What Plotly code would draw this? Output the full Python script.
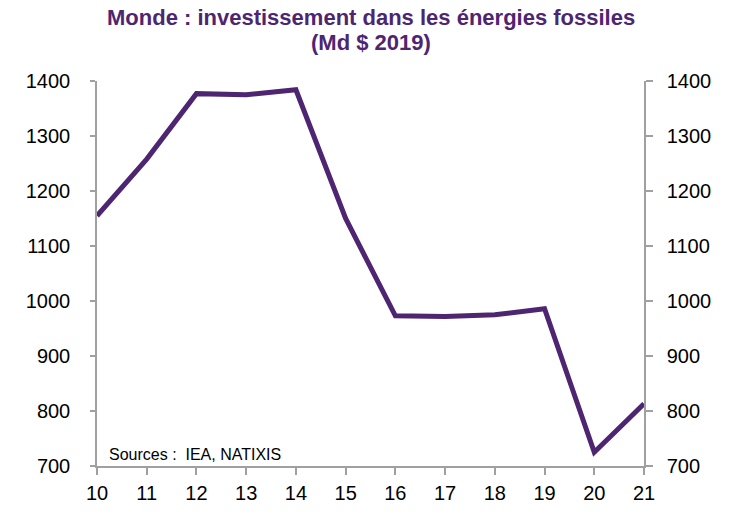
import plotly.graph_objects as go

years = [10, 11, 12, 13, 14, 15, 16, 17, 18, 19, 20, 21]
invest = [1155, 1258, 1377, 1375, 1384, 1150, 973, 972, 975, 986, 725, 813]
yticks = [700, 800, 900, 1000, 1100, 1200, 1300, 1400]

purple = "#4E2571"
FONT = "Liberation Sans, Arial"
fig = go.Figure()
fig.add_trace(go.Scatter(x=years, y=invest, mode="lines",
                         line=dict(color=purple, width=5), showlegend=False, hoverinfo="skip"))
fig.add_trace(go.Scatter(x=years, y=invest, mode="lines", yaxis="y2",
                         line=dict(color="rgba(0,0,0,0)", width=0), showlegend=False, hoverinfo="skip"))

def ax(ticklen, standoff):
    return dict(showgrid=False, zeroline=False, showline=True, linecolor="#a0a0a0", linewidth=1.5,
                ticks="outside", ticklen=ticklen, tickcolor="#a0a0a0", tickwidth=1.5,
                ticklabelstandoff=standoff,
                tickfont=dict(family=FONT, size=20, color="black"))

fig.update_layout(
    width=746, height=524,
    margin=dict(l=97, r=102, t=81, b=58),
    paper_bgcolor="white", plot_bgcolor="white",
    xaxis=dict(range=[10, 21], tickvals=years, ticktext=[str(y) for y in years], **ax(7, 1)),
    yaxis=dict(range=[700, 1400], tickvals=yticks, **ax(5, 16)),
    yaxis2=dict(range=[700, 1400], tickvals=yticks, overlaying="y", side="right", **ax(7, 10)),
    annotations=[
        dict(text="<b>Monde : investissement dans les énergies fossiles</b>", x=0.5, y=1.166,
             xref="paper", yref="paper", xanchor="center", yanchor="middle", showarrow=False,
             font=dict(family=FONT, size=22, color=purple)),
        dict(text="<b>(Md $ 2019)</b>", x=0.5, y=1.101,
             xref="paper", yref="paper", xanchor="center", yanchor="middle", showarrow=False,
             font=dict(family=FONT, size=22, color=purple)),
        dict(text="Sources :  IEA, NATIXIS", x=0.018, y=0.031, xref="paper", yref="paper",
             xanchor="left", yanchor="middle", showarrow=False,
             font=dict(family=FONT, size=16, color="black")),
    ],
)

fig.write_html("out.html", config={"displayModeBar": False},
               post_script="document.body.style.margin='0';document.body.style.overflow='hidden';")
